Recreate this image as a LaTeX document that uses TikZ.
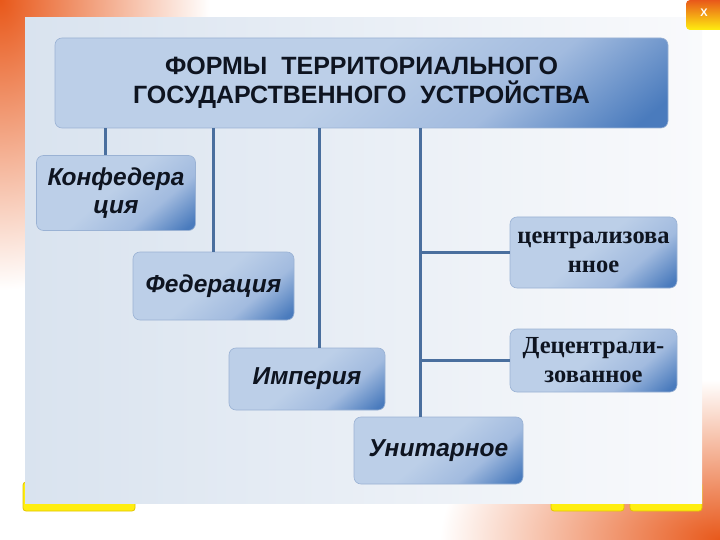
\documentclass[tikz,border=0pt]{standalone}
\usepackage{fontspec}
\setmainfont{Liberation Sans}
\newfontfamily\formserif{Liberation Serif}
\usetikzlibrary{calc}
\definecolor{swooshdark}{HTML}{E8581A}
\definecolor{swooshlight}{HTML}{F7A850}
\definecolor{panelleft}{HTML}{D9E3EF}
\definecolor{panelright}{HTML}{F9FAFC}
\definecolor{boxlight}{HTML}{BCCFE8}
\definecolor{boxmid}{HTML}{A2BBDF}
\definecolor{boxdark}{HTML}{4A7BBD}
\definecolor{boxedge}{HTML}{9AB2D4}
\definecolor{boxtext}{HTML}{0E1420}
\definecolor{linkblue}{HTML}{4A6F9E}
\definecolor{btnyellow}{HTML}{FFEE10}
\definecolor{btnedge}{HTML}{E2C400}
% light box, dark only towards one corner
\pgfdeclareverticalshading{formshade}{100bp}{color(0bp)=(boxdark); color(18bp)=(boxdark);
  color(34bp)=(boxmid); color(52bp)=(boxlight); color(100bp)=(boxlight)}

\begin{document}
\begin{tikzpicture}[x=1pt,y=-1pt,
  formbox/.style={rounded corners=7pt, draw=boxedge, line width=0.6pt,
    shading=formshade, shading angle=40,
    inner sep=0pt, align=center, text=boxtext},
  sansform/.style={font=\fontsize{24.5}{28}\selectfont\bfseries\itshape},
  serifform/.style={font=\fontsize{24.5}{29}\selectfont\formserif\bfseries},
  link/.style={draw=linkblue, line width=2.6pt},
  btn/.style={fill=btnyellow, draw=btnedge, line width=0.8pt, rounded corners=3pt}]
  % slide: 720 x 540, y runs downwards
  \useasboundingbox (0,0) rectangle (720,540);
  \fill[white] (0,0) rectangle (720,540);

  % orange swooshes in the corners
  \begin{scope}
    \clip (0,0) rectangle (720,540);
    \shade[inner color=swooshdark, outer color=white] (0,0) ellipse [x radius=210pt, y radius=290pt];
    \shade[inner color=swooshdark, outer color=white] (720,540) ellipse [x radius=280pt, y radius=160pt];
  \end{scope}

  % yellow buttons under the panel
  \draw[btn] (23,482) rectangle (135,511);
  \draw[btn] (551,482) rectangle (624,511);
  \draw[btn] (630,482) rectangle (702,511);

  % panel
  \shade[left color=panelleft, right color=panelright] (25,18) rectangle (702,503);

  % close button
  \node[rounded corners=4pt, top color=swooshdark, bottom color=btnyellow,
        minimum width=40pt, minimum height=30pt, inner sep=0pt] (xbtn) at (706,15) {};
  \node[text=white, font=\fontsize{11}{11}\selectfont\bfseries] at (704,13) {X};

  % title
  \node[formbox, minimum width=613pt, minimum height=90pt,
        font=\fontsize{25}{29}\selectfont\bfseries] (title) at (361.5,83)
       {ФОРМЫ\ \ ТЕРРИТОРИАЛЬНОГО\\ГОСУДАРСТВЕННОГО\ \ УСТРОЙСТВА};

  % the forms
  \node[formbox, sansform, minimum width=159pt, minimum height=75pt] (conf)  at (116,193)   {Конфедера\\ция};
  \node[formbox, sansform, minimum width=161pt, minimum height=68pt] (fed)   at (213.5,286) {Федерация};
  \node[formbox, sansform, minimum width=156pt, minimum height=62pt] (imp)   at (307,379)   {Империя};
  \node[formbox, sansform, minimum width=169pt, minimum height=67pt] (unit)  at (438.5,450.5) {Унитарное};
  \node[formbox, serifform, minimum width=167pt, minimum height=71pt] (centr)   at (593.5,252.5) {централизова\\нное};
  \node[formbox, serifform, minimum width=167pt, minimum height=63pt] (decentr) at (593.5,360.5) {Децентрали-\\зованное};

  % connectors from the title
  \coordinate (tA) at ($(title.south west)+(51,0)$);
  \coordinate (tB) at ($(title.south west)+(159,0)$);
  \coordinate (tC) at ($(title.south west)+(265,0)$);
  \coordinate (tD) at ($(title.south west)+(366,0)$);
  \draw[link] (tA) -- (tA |- conf.north);
  \draw[link] (tB) -- (tB |- fed.north);
  \draw[link] (tC) -- (tC |- imp.north);
  \draw[link] (tD) -- (tD |- unit.north);
  \draw[link] (tD |- centr.west) -- (centr.west);
  \draw[link] (tD |- decentr.west) -- (decentr.west);

\end{tikzpicture}
\end{document}
